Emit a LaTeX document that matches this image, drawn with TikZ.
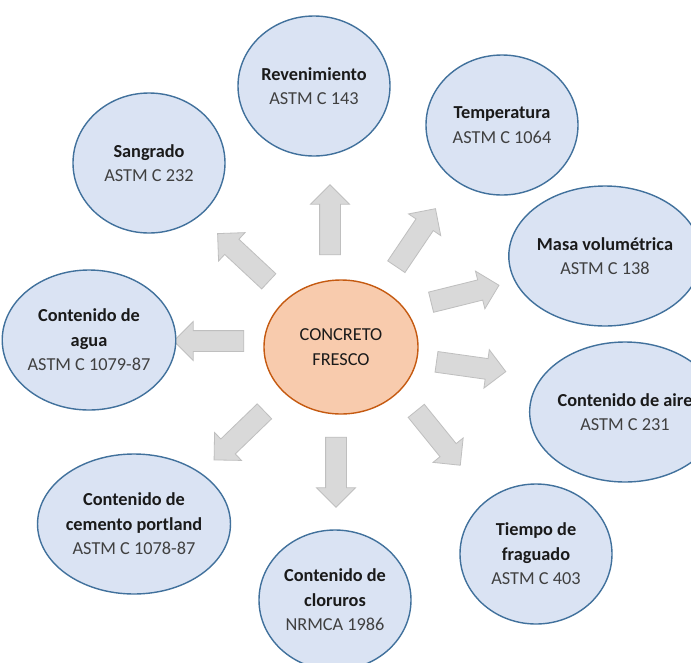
\documentclass[tikz,border=0pt]{standalone}
\usepackage{fontspec}
\setmainfont{Carlito}
\usetikzlibrary{shapes.geometric,shapes.arrows}
\definecolor{bfill}{HTML}{DAE3F3}
\definecolor{bdraw}{HTML}{41719C}
\definecolor{ofill}{HTML}{F8CBAD}
\definecolor{odraw}{HTML}{C55A11}
\definecolor{afill}{HTML}{D9D9D9}
\definecolor{adraw}{HTML}{BFBFBF}
\definecolor{tgray}{HTML}{404040}
\definecolor{tdark}{HTML}{1A1A1A}
\newcommand{\hd}[1]{{\bfseries\color{tdark}#1}}
\tikzset{
  outer/.style={ellipse, draw=bdraw, fill=bfill, line width=1.4pt,
    minimum width=152pt, minimum height=140pt, inner sep=0pt, align=center,
    text=tgray, font=\fontsize{18.3}{24.5}\selectfont},
  core/.style={ellipse, draw=odraw, fill=ofill, line width=1.4pt,
    minimum width=154pt, minimum height=134pt, inner sep=0pt, align=center,
    text=tdark, font=\fontsize{18.3}{25}\selectfont},
  blk/.style={single arrow, draw=adraw, fill=afill, line width=0.8pt,
    minimum height=70pt, inner xsep=0pt, inner ysep=10pt,
    single arrow head extend=9pt, single arrow tip angle=90},
}
\begin{document}
\begin{tikzpicture}[x=1pt,y=-1pt]
\clip (0,0) rectangle (691,662);
\fill[white] (0,0) rectangle (691,662);
% block arrows
\node[blk, rotate=90]   (a1) at (330,225) {};
\node[blk, rotate=137]  (a2) at (247,261) {};
\node[blk, rotate=56]   (a3) at (413,242) {};
\node[blk, rotate=14]   (a4) at (460,295) {};
\node[blk, rotate=-8]   (a5) at (466,366) {};
\node[blk, rotate=-51]  (a6) at (435,434) {};
\node[blk, rotate=-90]  (a7) at (336,467) {};
\node[blk, rotate=-136] (a8) at (243,432) {};
\node[blk, rotate=180]  (a9) at (214,341) {};
% center
\node[core] (c) at (341,347) {CONCRETO\\FRESCO};
% outer nodes
\node[outer] (rev) at (314,86)  {\hd{Revenimiento}\\ASTM C 143};
\node[outer] (tem) at (502,125) {\hd{Temperatura}\\ASTM C 1064};
\node[outer] (mas) at (605,256) {\hd{Masa volumétrica}\\ASTM C 138};
\node[outer] (air) at (625,412) {\hd{Contenido de aire}\\ASTM C 231};
\node[outer] (fra) at (536,554) {\hd{Tiempo de}\\\hd{fraguado}\\ASTM C 403};
\node[outer] (clo) at (335,600) {\hd{Contenido de}\\\hd{cloruros}\\NRMCA 1986};
\node[outer] (cem) at (134,524) {\hd{Contenido de}\\\hd{cemento portland}\\ASTM C 1078-87};
\node[outer] (agu) at (89,340)  {\hd{Contenido de}\\\hd{agua}\\ASTM C 1079-87};
\node[outer] (san) at (149,163) {\hd{Sangrado}\\ASTM C 232};
\end{tikzpicture}
\end{document}
